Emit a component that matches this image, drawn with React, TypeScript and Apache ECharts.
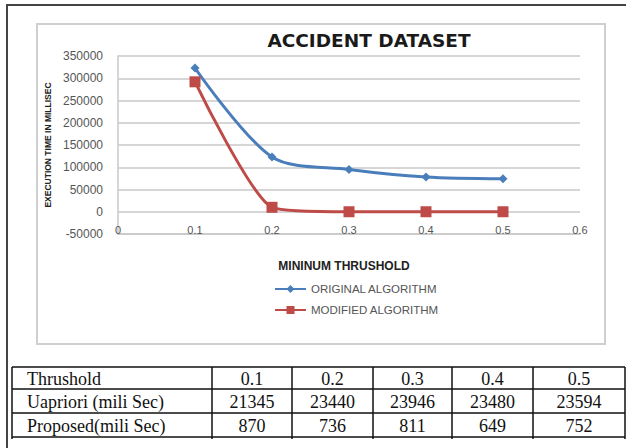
import React, { useEffect, useRef } from "react";
import * as echarts from "echarts";

const thresholds = [0.1, 0.2, 0.3, 0.4, 0.5];
const originalMs = [323000, 123000, 95000, 78000, 74000];
const modifiedMs = [292000, 10000, 0, 0, 0];

const tableHeader = ["Thrushold", "0.1", "0.2", "0.3", "0.4", "0.5"];
const tableUapriori = ["Uapriori (mili Sec)", "21345", "23440", "23946", "23480", "23594"];
const tableProposed = ["Proposed(mili Sec)", "870", "736", "811", "649", "752"];

const colX = [12, 212, 292, 373, 452, 533, 625];
const rowY = [367, 389, 413, 437];

export default function App() {
  const ref = useRef<HTMLDivElement>(null);
  useEffect(() => {
    if (!ref.current) return;
    const chart = echarts.init(ref.current, null, { renderer: "svg" });
    const graphics: any[] = [];
    graphics.push({ type: "line", shape: { x1: 6, y1: 5, x2: 626, y2: 5 }, style: { stroke: "#444", lineWidth: 2 } });
    graphics.push({ type: "line", shape: { x1: 7, y1: 4, x2: 7, y2: 448 }, style: { stroke: "#444", lineWidth: 2 } });
    graphics.push({ type: "rect", shape: { x: 37, y: 24, width: 568, height: 320 }, style: { fill: "none", stroke: "#d0d0d0", lineWidth: 2 } });
    graphics.push({ type: "text", x: 369, y: 40, style: { text: "ACCIDENT DATASET", font: "bold 18.5px 'DejaVu Sans'", fill: "#1a1a1a", align: "center", verticalAlign: "middle" } });
    graphics.push({ type: "text", x: 48, y: 145, rotation: Math.PI / 2, style: { text: "EXECUTION TIME IN MILLISEC", font: "bold 8.5px 'Liberation Sans'", fill: "#222", align: "center", verticalAlign: "middle" } });
    graphics.push({ type: "text", x: 344, y: 266, style: { text: "MININUM THRUSHOLD", font: "bold 12px 'Liberation Sans'", fill: "#222", align: "center", verticalAlign: "middle" } });
    rowY.forEach((y) => graphics.push({ type: "line", shape: { x1: colX[0], y1: y, x2: colX[colX.length - 1], y2: y }, style: { stroke: "#111", lineWidth: 1.5 } }));
    colX.forEach((x) => graphics.push({ type: "line", shape: { x1: x, y1: rowY[0], x2: x, y2: rowY[rowY.length - 1] + 2 }, style: { stroke: "#111", lineWidth: 1.5 } }));
    const rows = [tableHeader, tableUapriori, tableProposed];
    rows.forEach((row, r) => {
      const cy = (rowY[r] + rowY[r + 1]) / 2 + 1;
      row.forEach((cell, c) => {
        const first = c === 0;
        graphics.push({
          type: "text",
          x: first ? colX[0] + 15 : (colX[c] + colX[c + 1]) / 2,
          y: cy,
          style: { text: cell, font: "18px 'Liberation Serif'", fill: "#111", align: first ? "left" : "center", verticalAlign: "middle" },
        });
      });
    });

    chart.setOption({
      animation: false,
      grid: { left: 118, right: 46, top: 56, bottom: 214 },
      legend: {
        orient: "vertical",
        left: 269,
        top: 278,
        itemWidth: 31,
        itemHeight: 10,
        itemGap: 9,
        textStyle: { fontSize: 11.5, color: "#555", fontFamily: "Liberation Sans" },
        data: ["ORIGINAL ALGORITHM", "MODIFIED ALGORITHM"],
      },
      xAxis: {
        type: "value",
        min: 0,
        max: 0.6,
        interval: 0.1,
        axisLine: { onZero: false, show: true, lineStyle: { color: "#c8c8c8", width: 1.5 } },
        axisTick: { show: false },
        splitLine: { show: false },
        axisLabel: { margin: -10, fontSize: 11, color: "#555", fontFamily: "Liberation Sans", formatter: (v: number) => String(+v.toFixed(1)) },
      },
      yAxis: {
        type: "value",
        min: -50000,
        max: 350000,
        interval: 50000,
        axisLine: { show: true, lineStyle: { color: "#c8c8c8", width: 1.5 } },
        axisTick: { show: false },
        splitLine: { show: true, lineStyle: { color: "#c8c8c8", width: 1.5 } },
        axisLabel: { margin: 15, fontSize: 12, color: "#555", fontFamily: "Liberation Sans", formatter: (v: number) => String(v) },
      },
      series: [
        {
          name: "ORIGINAL ALGORITHM",
          type: "line",
          smooth: 0.3,
          data: thresholds.map((t, i) => [t, originalMs[i]]),
          symbol: "diamond",
          symbolSize: 9,
          lineStyle: { color: "#4A7EBB", width: 3 },
          itemStyle: { color: "#4A7EBB" },
        },
        {
          name: "MODIFIED ALGORITHM",
          type: "line",
          smooth: 0.2,
          data: thresholds.map((t, i) => [t, modifiedMs[i]]),
          symbol: "rect",
          symbolSize: 11,
          lineStyle: { color: "#BE4B48", width: 3 },
          itemStyle: { color: "#BE4B48" },
        },
      ],
      graphic: graphics,
    });
    return () => chart.dispose();
  }, []);
  return <div ref={ref} style={{ position: "fixed", left: 0, top: 0, width: 626, height: 448, background: "#fff" }} />;
}
